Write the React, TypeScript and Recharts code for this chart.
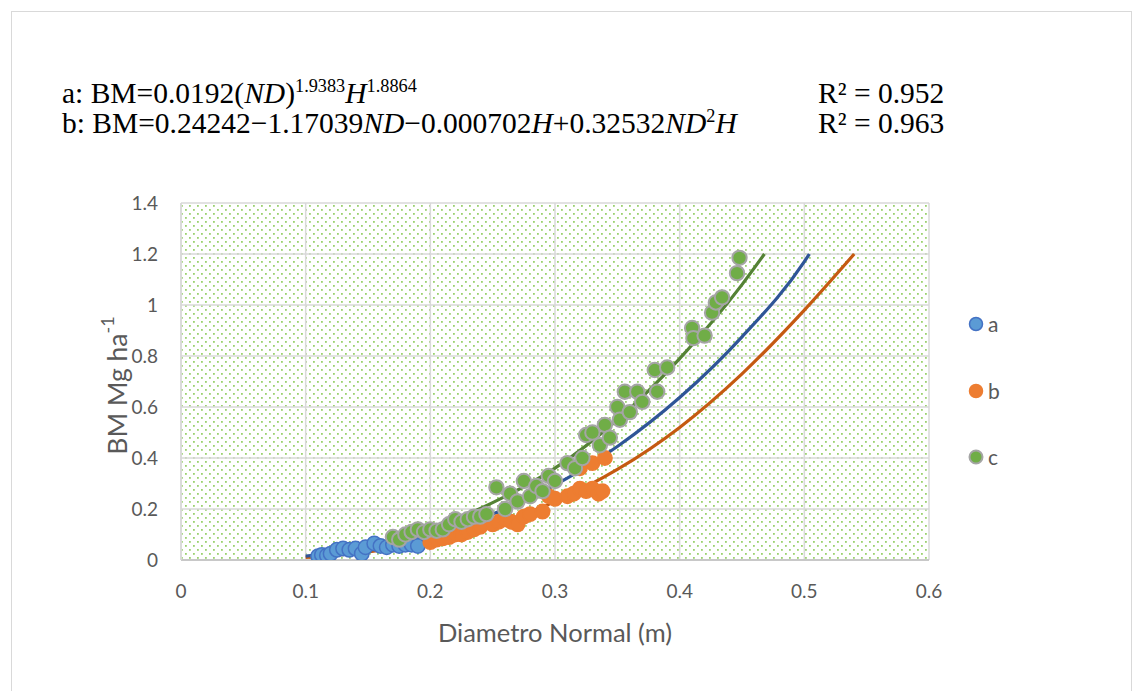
import React from 'react';
import { ComposedChart, Scatter, Line, XAxis, YAxis, CartesianGrid } from 'recharts';

// ---- data ----
const xTicks = [0, 0.1, 0.2, 0.3, 0.4, 0.5, 0.6];
const xTickLabels = ['0', '0.1', '0.2', '0.3', '0.4', '0.5', '0.6'];
const yTicks = [0, 0.2, 0.4, 0.6, 0.8, 1, 1.2, 1.4];
const yTickLabels = ['0', '0.2', '0.4', '0.6', '0.8', '1', '1.2', '1.4'];
const legendNames = ['a', 'b', 'c'];

const seriesA = [
  { x: 0.11, y: 0.015 }, { x: 0.113, y: 0.02 }, { x: 0.117, y: 0.018 }, { x: 0.12, y: 0.025 },
  { x: 0.125, y: 0.04 }, { x: 0.13, y: 0.045 }, { x: 0.135, y: 0.04 }, { x: 0.14, y: 0.045 },
  { x: 0.145, y: 0.025 }, { x: 0.148, y: 0.05 }, { x: 0.155, y: 0.065 }, { x: 0.16, y: 0.055 },
  { x: 0.165, y: 0.05 }, { x: 0.17, y: 0.06 }, { x: 0.175, y: 0.055 }, { x: 0.18, y: 0.06 },
  { x: 0.185, y: 0.06 }, { x: 0.19, y: 0.055 },
];

const seriesB = [
  { x: 0.2, y: 0.07 }, { x: 0.205, y: 0.08 }, { x: 0.21, y: 0.085 }, { x: 0.215, y: 0.09 },
  { x: 0.22, y: 0.1 }, { x: 0.225, y: 0.1 }, { x: 0.23, y: 0.11 }, { x: 0.235, y: 0.12 },
  { x: 0.24, y: 0.13 }, { x: 0.25, y: 0.14 }, { x: 0.255, y: 0.15 }, { x: 0.26, y: 0.16 },
  { x: 0.265, y: 0.15 }, { x: 0.27, y: 0.14 }, { x: 0.275, y: 0.17 }, { x: 0.28, y: 0.18 },
  { x: 0.29, y: 0.19 }, { x: 0.295, y: 0.25 }, { x: 0.3, y: 0.24 }, { x: 0.31, y: 0.25 },
  { x: 0.315, y: 0.26 }, { x: 0.32, y: 0.28 }, { x: 0.325, y: 0.27 }, { x: 0.33, y: 0.28 },
  { x: 0.335, y: 0.26 }, { x: 0.338, y: 0.27 }, { x: 0.32, y: 0.36 }, { x: 0.33, y: 0.38 },
  { x: 0.34, y: 0.4 },
];

const seriesC = [
  { x: 0.17, y: 0.09 }, { x: 0.175, y: 0.08 }, { x: 0.18, y: 0.1 }, { x: 0.185, y: 0.11 },
  { x: 0.19, y: 0.12 }, { x: 0.195, y: 0.11 }, { x: 0.2, y: 0.12 }, { x: 0.205, y: 0.115 },
  { x: 0.21, y: 0.12 }, { x: 0.215, y: 0.14 }, { x: 0.22, y: 0.16 }, { x: 0.225, y: 0.15 },
  { x: 0.23, y: 0.16 }, { x: 0.235, y: 0.17 }, { x: 0.24, y: 0.17 }, { x: 0.245, y: 0.18 },
  { x: 0.253, y: 0.285 }, { x: 0.26, y: 0.2 }, { x: 0.264, y: 0.26 }, { x: 0.27, y: 0.23 },
  { x: 0.275, y: 0.31 }, { x: 0.28, y: 0.25 }, { x: 0.285, y: 0.29 }, { x: 0.29, y: 0.27 },
  { x: 0.295, y: 0.33 }, { x: 0.3, y: 0.31 }, { x: 0.31, y: 0.38 }, { x: 0.316, y: 0.36 },
  { x: 0.322, y: 0.4 }, { x: 0.325, y: 0.49 }, { x: 0.33, y: 0.5 }, { x: 0.336, y: 0.45 },
  { x: 0.34, y: 0.53 }, { x: 0.344, y: 0.48 }, { x: 0.35, y: 0.6 }, { x: 0.352, y: 0.55 },
  { x: 0.356, y: 0.66 }, { x: 0.36, y: 0.58 }, { x: 0.366, y: 0.66 }, { x: 0.37, y: 0.62 },
  { x: 0.38, y: 0.745 }, { x: 0.382, y: 0.66 }, { x: 0.39, y: 0.755 }, { x: 0.41, y: 0.91 },
  { x: 0.411, y: 0.87 }, { x: 0.42, y: 0.88 }, { x: 0.426, y: 0.97 }, { x: 0.429, y: 1.01 },
  { x: 0.434, y: 1.03 }, { x: 0.446, y: 1.125 }, { x: 0.448, y: 1.185 },
];

const trendA = [
  { x: 0.1, y: 0.015 }, { x: 0.15, y: 0.046 }, { x: 0.2, y: 0.099 }, { x: 0.25, y: 0.18 },
  { x: 0.3, y: 0.294 }, { x: 0.35, y: 0.445 }, { x: 0.4, y: 0.637 }, { x: 0.45, y: 0.875 },
  { x: 0.5, y: 1.17 }, { x: 0.504, y: 1.2 },
];
const trendB = [
  { x: 0.1, y: 0.01 }, { x: 0.15, y: 0.032 }, { x: 0.2, y: 0.072 }, { x: 0.25, y: 0.136 },
  { x: 0.3, y: 0.229 }, { x: 0.35, y: 0.355 }, { x: 0.4, y: 0.52 }, { x: 0.45, y: 0.73 },
  { x: 0.5, y: 0.98 }, { x: 0.54, y: 1.2 },
];
const trendC = [
  { x: 0.168, y: 0.078 }, { x: 0.2, y: 0.124 }, { x: 0.25, y: 0.225 }, { x: 0.3, y: 0.36 },
  { x: 0.35, y: 0.55 }, { x: 0.4, y: 0.79 }, { x: 0.45, y: 1.08 }, { x: 0.468, y: 1.2 },
];

// ---- styles ----
const FONT = 'Lato, "Open Sans", sans-serif';
const SERIF = '"Liberation Serif", "Times New Roman", serif';
const TXT = '#595959';
const markerStyles = [
  { fill: '#5b9bd5', stroke: '#4472c4', sw: 1.5 },
  { fill: '#ed7d31', stroke: '#ed7d31', sw: 1.5 },
  { fill: '#70ad47', stroke: '#a5a5a5', sw: 2 },
];

const makeDot = (i: number) => (props: any) => {
  const s = markerStyles[i];
  if (props.cx == null || props.cy == null) return <g />;
  return <circle cx={props.cx} cy={props.cy} r={7.2} fill={s.fill} stroke={s.stroke} strokeWidth={s.sw} />;
};

const labelOf = (ticks: number[], labels: string[]) => (v: number) => {
  let best = 0;
  ticks.forEach((t, i) => { if (Math.abs(t - v) < Math.abs(ticks[best] - v)) best = i; });
  return labels[best];
};

const XLabel = (props: any) => {
  const vb = props.viewBox || {};
  return (
    <text x={vb.x + vb.width / 2} y={vb.y + 72} textAnchor="middle" dominantBaseline="central"
      fontFamily={FONT} fontSize={25.5} fill={TXT}>Diametro Normal (m)</text>
  );
};

const YLabel = (props: any) => {
  const vb = props.viewBox || {};
  const cx = 117;
  const cy = vb.y + vb.height / 2 + 4;
  return (
    <text x={cx} y={cy} transform={`rotate(-90, ${cx}, ${cy})`} textAnchor="middle" dominantBaseline="central"
      fontFamily={FONT} fontSize={26.5} fill={TXT}>
      BM Mg ha<tspan dy={-10} fontSize={18}>-1</tspan>
    </text>
  );
};

const supStyle: React.CSSProperties = { fontSize: '0.62em', verticalAlign: '0.58em', lineHeight: 0 };
const eqStyle: React.CSSProperties = { position: 'absolute', fontFamily: SERIF, fontSize: 29.5, lineHeight: '32px', color: '#000', whiteSpace: 'nowrap' };

export default function App() {
  return (
    <div style={{ position: 'absolute', left: 0, top: 0, width: 1143, height: 691, background: '#fff', overflow: 'hidden' }}>
      <div style={{ position: 'absolute', left: 11, top: 11, width: 1119, height: 700, border: '1px solid #d9d9d9' }} />
      <div style={{ ...eqStyle, left: 62, top: 77 }}>
        a: BM=0.0192(<i>ND</i>)<span style={supStyle}>1.9383</span><i>H</i><span style={supStyle}>1.8864</span>
      </div>
      <div style={{ ...eqStyle, left: 62, top: 107 }}>
        b: BM=0.24242−1.17039<i>ND</i>−0.000702<i>H</i>+0.32532<i>ND</i><span style={supStyle}>2</span><i>H</i>
      </div>
      <div style={{ ...eqStyle, left: 818, top: 77 }}>R² = 0.952</div>
      <div style={{ ...eqStyle, left: 818, top: 107 }}>R² = 0.963</div>

      <ComposedChart width={1143} height={691} margin={{ top: 203, right: 214, bottom: 71, left: 121 }}
        style={{ position: 'absolute', left: 0, top: 0 }}>
        <defs>
          <pattern id="dotFill" x={0} y={0} width={8} height={8} patternUnits="userSpaceOnUse">
            <rect x={0} y={0} width={8} height={8} fill="#ffffff" />
            <rect x={1} y={1} width={1.8} height={1.8} fill="#9bd16f" />
            <rect x={5} y={5} width={1.8} height={1.8} fill="#9bd16f" />
          </pattern>
        </defs>
        <CartesianGrid stroke="#d9d9d9" strokeWidth={1.5} fill="url(#dotFill)" fillOpacity={1} />
        <XAxis type="number" dataKey="x" domain={[0, 0.6]} ticks={xTicks} allowDataOverflow interval={0}
          tickFormatter={labelOf(xTicks, xTickLabels)} tickLine={false} tickSize={0} tickMargin={25}
          axisLine={{ stroke: '#bfbfbf', strokeWidth: 1.5 }} height={60}
          tick={{ fontFamily: FONT, fontSize: 19, fill: TXT }} label={<XLabel />} />
        <YAxis type="number" dataKey="y" domain={[0, 1.4]} ticks={yTicks} allowDataOverflow interval={0}
          tickFormatter={labelOf(yTicks, yTickLabels)} tickLine={false} tickSize={0} tickMargin={23}
          axisLine={{ stroke: '#d9d9d9', strokeWidth: 1.5 }} width={60}
          tick={{ fontFamily: FONT, fontSize: 19, fill: TXT }} label={<YLabel />} />
        <Scatter name="a" data={seriesA} shape={makeDot(0)} isAnimationActive={false} />
        <Scatter name="b" data={seriesB} shape={makeDot(1)} isAnimationActive={false} />
        <Scatter name="c" data={seriesC} shape={makeDot(2)} isAnimationActive={false} />
        <Line data={trendB} dataKey="y" type="monotone" dot={false} activeDot={false} stroke="#c55a11" strokeWidth={3.2} isAnimationActive={false} legendType="none" />
        <Line data={trendA} dataKey="y" type="monotone" dot={false} activeDot={false} stroke="#2f5597" strokeWidth={3.2} isAnimationActive={false} legendType="none" />
        <Line data={trendC} dataKey="y" type="monotone" dot={false} activeDot={false} stroke="#548235" strokeWidth={3.2} isAnimationActive={false} legendType="none" />
      </ComposedChart>

      <div style={{ position: 'absolute', left: 968, top: 312, width: 80, height: 170 }}>
        {legendNames.map((n, i) => {
          const s = markerStyles[i];
          return (
            <div key={n} style={{ position: 'absolute', left: 0, top: i * 66.5, height: 24, display: 'flex', alignItems: 'center' }}>
              <svg width={16} height={16} style={{ display: 'block' }}>
                <circle cx={8} cy={8} r={6.5} fill={s.fill} stroke={s.stroke} strokeWidth={s.sw} />
              </svg>
              <span style={{ marginLeft: 4, fontFamily: FONT, fontSize: 21, color: TXT, lineHeight: '24px' }}>{n}</span>
            </div>
          );
        })}
      </div>
    </div>
  );
}
